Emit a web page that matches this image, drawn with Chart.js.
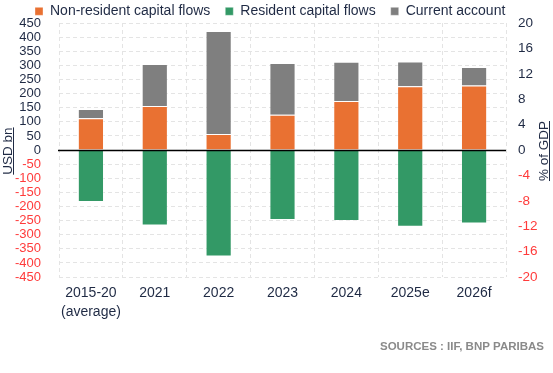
<!DOCTYPE html>
<html><head><meta charset="utf-8">
<script src="https://cdn.jsdelivr.net/npm/chart.js@4"></script>
<style>html,body{margin:0;padding:0;background:#fff}</style>
</head><body>
<canvas id="c" width="553" height="373" style="width:553px;height:373px;display:block"></canvas>
<script>
const categories = [["2015-20","(average)"],"2021","2022","2023","2024","2025e","2026f"];
const nonResidentFlows = [113,156,57,125,174,226,229];
const residentFlows = [-184,-267,-377,-248,-251,-272,-260];
const currentAccount = [32,149,365,183,139,88,65];
const usdAxis = [-450, 450, 50];   // min, max, step (USD bn)
const gdpAxis = [-20, 20, 4];      // min, max, step (% of GDP)
const seriesNames = ["Non-resident capital flows","Resident capital flows","Current account"];
const sourceText = "SOURCES : IIF, BNP PARIBAS";
const leftTitle = "USD bn";
const rightTitle = "% of GDP";

const FONT = '"Liberation Sans","Arimo",Arial,sans-serif';
const TXT = '#1f2a44';
const RED = '#ff3b3b';
const GRID = '#e4e4e4';

const layoutTweaks = {
  id: 'layoutTweaks',
  afterLayout(chart) {
    const lg = chart.legend;
    if (lg) { lg.left += 20; lg.right += 20; lg.top = -10.7; }
    const tb = chart.titleBlock;
    if (tb) { tb.left -= 9; tb.right -= 9; }
  }
};
const zeroLine = {
  id: 'zeroLine',
  afterDatasetsDraw(chart) {
    const y = Math.round(chart.scales.y.getPixelForValue(0)) + 0.5;
    const ctx = chart.ctx;
    ctx.save();
    ctx.strokeStyle = '#000'; ctx.lineWidth = 1.3;
    ctx.beginPath(); ctx.moveTo(chart.chartArea.left - 1, y); ctx.lineTo(chart.chartArea.right, y); ctx.stroke();
    ctx.restore();
  }
};
const axisTitles = {
  id: 'axisTitles',
  afterDraw(chart) {
    const ctx = chart.ctx;
    const cy = chart.scales.y.getPixelForValue(0) + 1;
    function draw(text, baseX) {
      ctx.save();
      ctx.font = '13.5px ' + FONT;
      ctx.fillStyle = TXT; ctx.strokeStyle = TXT; ctx.lineWidth = 1;
      ctx.translate(baseX, cy);
      ctx.rotate(-Math.PI / 2);
      ctx.textAlign = 'center'; ctx.textBaseline = 'alphabetic';
      ctx.fillText(text, 0, 0);
      const w = ctx.measureText(text).width;
      ctx.beginPath(); ctx.moveTo(-w / 2, 2); ctx.lineTo(w / 2, 2); ctx.stroke();
      ctx.restore();
    }
    draw(leftTitle, 11.5);
    draw(rightTitle, 547.5);
  }
};

new Chart(document.getElementById('c'), {
  type: 'bar',
  data: {
    labels: categories,
    datasets: [
      { label: seriesNames[0], data: nonResidentFlows, backgroundColor: '#e97132', borderColor: 'rgba(255,255,255,0.35)', borderWidth: 1, stack: 's', yAxisID: 'y' },
      { label: seriesNames[1], data: residentFlows, backgroundColor: '#339966', borderColor: 'rgba(255,255,255,0.35)', borderWidth: 1, stack: 's', yAxisID: 'y' },
      { label: seriesNames[2], data: currentAccount, backgroundColor: '#7f7f7f', borderColor: 'rgba(255,255,255,0.35)', borderWidth: 1, stack: 's', yAxisID: 'y' }
    ]
  },
  options: {
    responsive: false,
    animation: false,
    layout: { padding: 0 },
    datasets: { bar: { barPercentage: 0.41, categoryPercentage: 1 } },
    plugins: {
      tooltip: { enabled: false },
      legend: {
        display: true, position: 'top', align: 'start', maxHeight: 23,
        labels: { boxWidth: 8, boxHeight: 8, padding: 15, color: TXT, font: { family: FONT, size: 14 } }
      },
      title: {
        display: true, position: 'bottom', align: 'end', text: sourceText, color: '#8a8a8a',
        padding: { top: 4, bottom: 18 }, font: { family: FONT, size: 11.5, weight: 'bold', lineHeight: 1.35 }
      }
    },
    scales: {
      x: {
        stacked: true,
        afterFit(s) { s.height = 58.4; },
        grid: { display: true, offset: true, color: GRID, lineWidth: 1, drawTicks: false },
        border: { display: false, dash: [4, 3] },
        ticks: { color: TXT, padding: 6.4, font: { family: FONT, size: 14, lineHeight: 1.37 }, maxRotation: 0, autoSkip: false }
      },
      y: {
        position: 'left', stacked: true,
        min: usdAxis[0], max: usdAxis[1],
        afterFit(s) { s.width = 59; s.paddingTop = 8; s.paddingBottom = 8; },
        grid: { color: GRID, lineWidth: 1, drawTicks: false },
        border: { display: false, dash: [4, 3] },
        ticks: { stepSize: usdAxis[2], autoSkip: false, padding: 18, font: { family: FONT, size: 13 },
          color: c => c.tick.value < 0 ? RED : TXT }
      },
      y2: {
        position: 'right',
        min: gdpAxis[0], max: gdpAxis[1],
        afterFit(s) { s.width = 47; s.paddingTop = 8; s.paddingBottom = 8; },
        grid: { drawOnChartArea: false, drawTicks: false },
        border: { display: false },
        ticks: { stepSize: gdpAxis[2], autoSkip: false, padding: 12, font: { family: FONT, size: 13.5 },
          color: c => c.tick.value < 0 ? RED : TXT }
      }
    }
  },
  plugins: [layoutTweaks, zeroLine, axisTitles]
});
</script>
</body></html>
